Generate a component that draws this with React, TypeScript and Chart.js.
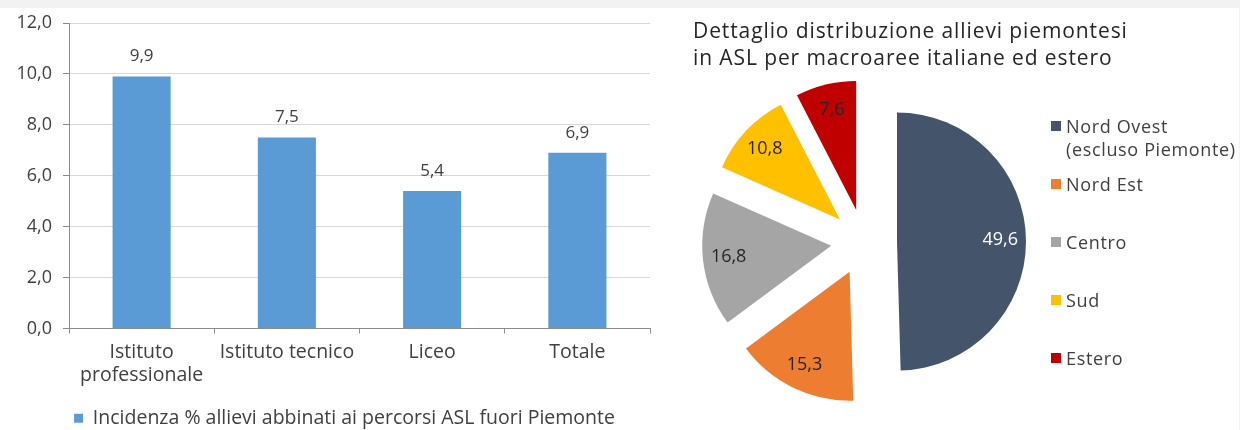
import React, { useEffect, useRef } from 'react';
import { Chart, registerables } from 'chart.js';

Chart.register(...registerables);

// ---------- data ----------
const barCategories: (string | string[])[] = [['Istituto', 'professionale'], 'Istituto tecnico', 'Liceo', 'Totale'];
const barValues: number[] = [9.9, 7.5, 5.4, 6.9];
const barSeriesLabel = 'Incidenza % allievi abbinati ai percorsi ASL fuori Piemonte';
const yMin = 0;
const yMax = 12;
const yStep = 2;

const pieTitle: string[] = ['Dettaglio distribuzione allievi piemontesi', 'in ASL per macroaree italiane ed estero'];
const pieLabels: string[][] = [['Nord Ovest', '(escluso Piemonte)'], ['Nord Est'], ['Centro'], ['Sud'], ['Estero']];
const pieValues: number[] = [49.6, 15.3, 16.8, 10.8, 7.6];
const pieColors: string[] = ['#44546A', '#ED7D31', '#A5A5A5', '#FFC000', '#C00000'];
const pieLabelColors: string[] = ['#ffffff', '#262626', '#262626', '#262626', '#262626'];

// ---------- styles ----------
const FONT = "'Open Sans', 'DejaVu Sans', sans-serif";
const TEXT = '#404040';
const AXIS = '#8c8c8c';
const GRID = '#d9d9d9';
const BAR = '#5B9BD5';

const fmt = (v: number) => Number(v).toFixed(1).replace('.', ',');

const barValueLabels = {
  id: 'barValueLabels',
  afterLayout(chart: any) {
    // centre the legend under the full panel width (Excel-style)
    if (chart.legend) chart.legend.left += 39;
  },
  afterDatasetsDraw(chart: any) {
    const ctx = chart.ctx;
    chart.data.datasets.forEach((ds: any, di: number) => {
      const meta = chart.getDatasetMeta(di);
      meta.data.forEach((bar: any, i: number) => {
        const { x, y } = bar.getProps(['x', 'y'], true);
        ctx.save();
        ctx.font = `17px ${FONT}`;
        ctx.fillStyle = TEXT;
        ctx.textAlign = 'center';
        ctx.textBaseline = 'middle';
        ctx.fillText(fmt(ds.data[i]), x, y - 20);
        ctx.restore();
      });
    });
  },
};

const explodedPie = {
  id: 'explodedPie',
  beforeDatasetDraw(chart: any, args: any) {
    const ctx = chart.ctx;
    args.meta.data.forEach((arc: any) => {
      const { x, y, startAngle, endAngle, outerRadius } = arc.getProps(
        ['x', 'y', 'startAngle', 'endAngle', 'outerRadius'],
        true
      );
      const off = arc.options.offset || 0;
      const mid = (startAngle + endAngle) / 2;
      const cx = x + Math.cos(mid) * off;
      const cy = y + Math.sin(mid) * off;
      ctx.save();
      ctx.beginPath();
      ctx.moveTo(cx, cy);
      ctx.arc(cx, cy, outerRadius, startAngle, endAngle);
      ctx.closePath();
      ctx.fillStyle = arc.options.backgroundColor;
      ctx.fill();
      ctx.restore();
    });
    return false;
  },
  afterDatasetsDraw(chart: any) {
    const ctx = chart.ctx;
    const meta = chart.getDatasetMeta(0);
    const ds = chart.data.datasets[0];
    meta.data.forEach((arc: any, i: number) => {
      const { x, y, startAngle, endAngle, outerRadius } = arc.getProps(
        ['x', 'y', 'startAngle', 'endAngle', 'outerRadius'],
        true
      );
      const off = arc.options.offset || 0;
      const mid = (startAngle + endAngle) / 2;
      const d = off + outerRadius * 0.8;
      ctx.save();
      ctx.font = `18px ${FONT}`;
      ctx.fillStyle = pieLabelColors[i];
      ctx.textAlign = 'center';
      ctx.textBaseline = 'middle';
      ctx.fillText(fmt(ds.data[i]), x + Math.cos(mid) * d, y + Math.sin(mid) * d);
      ctx.restore();
    });
  },
};

export default function App() {
  const barRef = useRef<HTMLCanvasElement | null>(null);
  const pieRef = useRef<HTMLCanvasElement | null>(null);

  useEffect(() => {
    Chart.defaults.font.family = FONT;
    Chart.defaults.color = TEXT;

    const bar = new Chart(barRef.current as HTMLCanvasElement, {
      type: 'bar',
      data: {
        labels: barCategories as any,
        datasets: [
          {
            label: barSeriesLabel,
            data: barValues,
            backgroundColor: BAR,
            barPercentage: 0.4,
            categoryPercentage: 1,
          },
        ],
      },
      options: {
        animation: false,
        responsive: false,
        maintainAspectRatio: false,
        layout: { padding: { left: 0, right: 10, top: 15, bottom: 0 } },
        scales: {
          x: {
            grid: { drawOnChartArea: false, drawTicks: true, tickLength: 5, tickColor: AXIS, offset: true },
            border: { color: AXIS },
            ticks: {
              font: { size: 19.5, lineHeight: 23 / 19.5 },
              color: TEXT,
              padding: 7,
              maxRotation: 0,
              autoSkip: false,
            },
            afterFit: (s: any) => {
              s.height = 70;
              s.paddingLeft = 0;
              s.paddingRight = 0;
            },
          },
          y: {
            min: yMin,
            max: yMax,
            ticks: { stepSize: yStep, callback: (v: any) => fmt(v), font: { size: 18 }, color: TEXT, padding: 11 },
            grid: { color: GRID, tickColor: AXIS, tickLength: 6 },
            border: { color: AXIS },
            afterFit: (s: any) => {
              s.width = 69;
              s.paddingTop = 0;
              s.paddingBottom = 0;
            },
          },
        },
        plugins: {
          legend: {
            position: 'bottom',
            labels: { boxWidth: 9, boxHeight: 9, font: { size: 19.5 }, color: TEXT, padding: 10 },
          },
          tooltip: { enabled: false },
        },
      } as any,
      plugins: [barValueLabels],
    });

    const pie = new Chart(pieRef.current as HTMLCanvasElement, {
      type: 'pie',
      data: {
        labels: pieLabels.map((l) => l.join(' ')),
        datasets: [
          {
            data: pieValues,
            backgroundColor: pieColors,
            borderWidth: 0,
            offset: 33,
            hoverOffset: 0,
          },
        ],
      },
      options: {
        animation: false,
        responsive: false,
        maintainAspectRatio: false,
        layout: { padding: { left: 58.5, top: 96.5, right: 230.5, bottom: 42.5 } },
        plugins: {
          legend: { display: false },
          title: { display: false },
          tooltip: { enabled: false },
        },
      } as any,
      plugins: [explodedPie],
    });

    return () => {
      bar.destroy();
      pie.destroy();
    };
  }, []);

  return (
    <div
      style={{
        position: 'fixed',
        left: 0,
        top: 0,
        width: 1240,
        height: 430,
        overflow: 'hidden',
        background: '#f2f2f2',
        fontFamily: FONT,
      }}
    >
      <div style={{ position: 'absolute', left: 0, top: 8, width: 1239, height: 422, background: '#ffffff' }} />
      <canvas
        ref={barRef}
        width={660}
        height={430}
        style={{ position: 'absolute', left: 0, top: 8, width: 660, height: 430 }}
      />
      <canvas
        ref={pieRef}
        width={580}
        height={430}
        style={{ position: 'absolute', left: 660, top: 0, width: 580, height: 430 }}
      />
      <div
        style={{
          position: 'absolute',
          left: 693,
          top: 17,
          fontSize: 21,
          lineHeight: '27px',
          letterSpacing: '0.9px',
          color: '#262626',
          whiteSpace: 'nowrap',
        }}
      >
        {pieTitle.map((t, i) => (
          <div key={i}>{t}</div>
        ))}
      </div>
      {pieLabels.map((lines, i) => (
        <div
          key={i}
          style={{
            position: 'absolute',
            left: 1051,
            top: 126 + i * 58 - 11.5,
            display: 'flex',
            alignItems: 'flex-start',
            whiteSpace: 'nowrap',
          }}
        >
          <div style={{ width: 10, height: 10, marginTop: 6.5, background: pieColors[i] }} />
          <div style={{ marginLeft: 5, fontSize: 18, lineHeight: '23px', letterSpacing: '0.65px', color: TEXT }}>
            {lines.map((l, j) => (
              <div key={j}>{l}</div>
            ))}
          </div>
        </div>
      ))}
    </div>
  );
}
